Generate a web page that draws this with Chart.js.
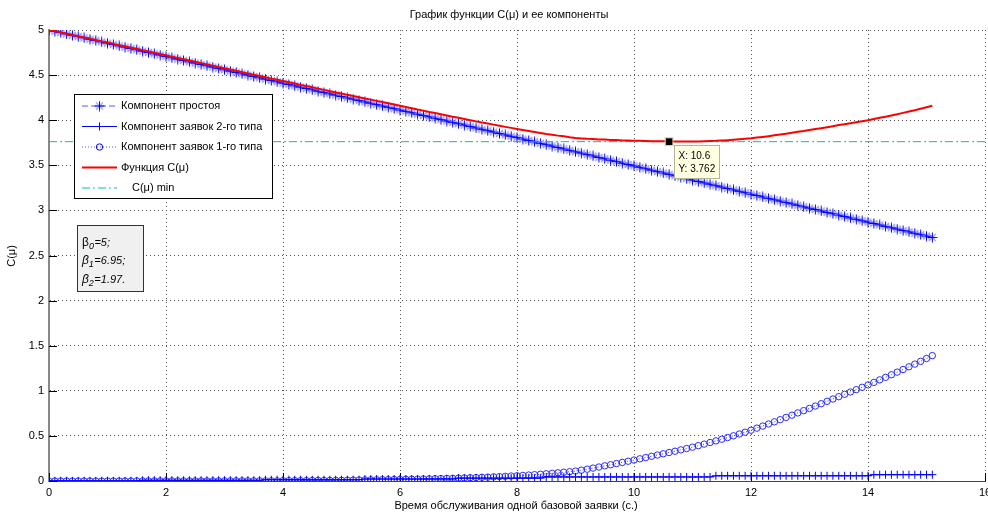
<!DOCTYPE html>
<html><head><meta charset="utf-8">
<script src="https://cdn.jsdelivr.net/npm/chart.js@4.4.1/dist/chart.umd.min.js"></script>
<style>html,body{margin:0;padding:0;background:#fff;}canvas{display:block;}</style>
</head><body>
<canvas id="c" width="988" height="513"></canvas>
<script>
// ---- data ----
const xs = [
0,0.1,0.2,0.3,0.4,0.5,0.6,0.7,0.8,0.9,
1,1.1,1.2,1.3,1.4,1.5,1.6,1.7,1.8,1.9,
2,2.1,2.2,2.3,2.4,2.5,2.6,2.7,2.8,2.9,
3,3.1,3.2,3.3,3.4,3.5,3.6,3.7,3.8,3.9,
4,4.1,4.2,4.3,4.4,4.5,4.6,4.7,4.8,4.9,
5,5.1,5.2,5.3,5.4,5.5,5.6,5.7,5.8,5.9,
6,6.1,6.2,6.3,6.4,6.5,6.6,6.7,6.8,6.9,
7,7.1,7.2,7.3,7.4,7.5,7.6,7.7,7.8,7.9,
8,8.1,8.2,8.3,8.4,8.5,8.6,8.7,8.8,8.9,
9,9.1,9.2,9.3,9.4,9.5,9.6,9.7,9.8,9.9,
10,10.1,10.2,10.3,10.4,10.5,10.6,10.7,10.8,10.9,
11,11.1,11.2,11.3,11.4,11.5,11.6,11.7,11.8,11.9,
12,12.1,12.2,12.3,12.4,12.5,12.6,12.7,12.8,12.9,
13,13.1,13.2,13.3,13.4,13.5,13.6,13.7,13.8,13.9,
14,14.1,14.2,14.3,14.4,14.5,14.6,14.7,14.8,14.9,
15,15.1];

// Компонент простоя
const idleComp = [
5.000,4.986,4.971,4.956,4.941,4.927,4.913,4.897,4.883,4.868,
4.854,4.839,4.824,4.810,4.795,4.781,4.765,4.751,4.736,4.722,
4.706,4.692,4.677,4.663,4.647,4.633,4.618,4.604,4.589,4.574,
4.559,4.544,4.530,4.514,4.500,4.485,4.470,4.455,4.440,4.426,
4.411,4.396,4.381,4.366,4.352,4.337,4.321,4.307,4.292,4.278,
4.263,4.247,4.233,4.218,4.203,4.188,4.173,4.158,4.143,4.128,
4.113,4.098,4.083,4.067,4.052,4.037,4.022,4.007,3.991,3.976,
3.961,3.946,3.930,3.914,3.899,3.884,3.869,3.853,3.837,3.822,
3.807,3.791,3.775,3.760,3.744,3.728,3.713,3.697,3.682,3.666,
3.650,3.635,3.619,3.604,3.587,3.572,3.556,3.541,3.524,3.509,
3.493,3.478,3.462,3.446,3.430,3.415,3.400,3.383,3.368,3.352,
3.337,3.321,3.305,3.290,3.274,3.259,3.243,3.227,3.212,3.196,
3.180,3.165,3.149,3.134,3.118,3.103,3.087,3.072,3.057,3.040,
3.025,3.010,2.994,2.978,2.963,2.948,2.932,2.916,2.901,2.885,
2.870,2.855,2.839,2.823,2.808,2.793,2.777,2.762,2.746,2.731,
2.716,2.700];

// Компонент заявок 2-го типа
const type2Comp = [
0.002,0.002,0.002,0.002,0.002,0.002,0.002,0.002,0.002,0.002,
0.002,0.002,0.002,0.002,0.002,0.002,0.008,0.008,0.008,0.008,
0.008,0.008,0.008,0.008,0.008,0.008,0.008,0.008,0.008,0.008,
0.008,0.008,0.008,0.008,0.008,0.008,0.008,0.014,0.014,0.014,
0.014,0.014,0.014,0.014,0.014,0.014,0.014,0.014,0.014,0.014,
0.014,0.014,0.014,0.014,0.022,0.022,0.022,0.022,0.022,0.022,
0.022,0.022,0.022,0.022,0.022,0.022,0.022,0.022,0.022,0.022,
0.032,0.032,0.032,0.032,0.032,0.032,0.032,0.032,0.032,0.032,
0.032,0.032,0.032,0.032,0.032,0.045,0.045,0.045,0.045,0.045,
0.045,0.045,0.045,0.045,0.045,0.045,0.045,0.045,0.045,0.045,
0.045,0.045,0.045,0.045,0.045,0.045,0.045,0.045,0.045,0.045,
0.045,0.045,0.045,0.045,0.058,0.058,0.058,0.058,0.058,0.058,
0.058,0.058,0.058,0.058,0.058,0.058,0.058,0.058,0.058,0.058,
0.058,0.058,0.058,0.058,0.058,0.058,0.058,0.058,0.058,0.058,
0.058,0.070,0.070,0.070,0.070,0.070,0.070,0.070,0.070,0.070,
0.070,0.070];

// Компонент заявок 1-го типа
const type1Comp = [
0,0,0,0,0,0,0,0,0,0,
0,0,0,0,0,0.001,0.001,0.001,0.001,0.001,
0.001,0.001,0.001,0.001,0.001,0.001,0.001,0.001,0.001,0.001,
0.002,0.002,0.002,0.002,0.002,0.002,0.002,0.002,0.002,0.002,
0.004,0.004,0.004,0.004,0.004,0.006,0.006,0.006,0.006,0.006,
0.008,0.009,0.010,0.011,0.012,0.013,0.014,0.015,0.016,0.017,
0.018,0.019,0.020,0.021,0.023,0.024,0.026,0.027,0.029,0.030,
0.032,0.034,0.036,0.038,0.041,0.043,0.046,0.049,0.052,0.055,
0.058,0.062,0.066,0.070,0.075,0.080,0.085,0.091,0.097,0.103,
0.110,0.120,0.131,0.143,0.155,0.168,0.180,0.193,0.206,0.219,
0.232,0.246,0.260,0.274,0.288,0.302,0.316,0.330,0.345,0.360,
0.375,0.392,0.409,0.427,0.445,0.463,0.482,0.501,0.521,0.541,
0.563,0.586,0.609,0.632,0.656,0.680,0.705,0.730,0.755,0.780,
0.805,0.831,0.857,0.883,0.909,0.935,0.961,0.987,1.013,1.039,
1.065,1.093,1.121,1.149,1.178,1.207,1.236,1.266,1.296,1.327,
1.358,1.390];

// Функция C(μ)
const cFunc = [
5.002,4.989,4.974,4.959,4.945,4.931,4.918,4.902,4.889,4.874,
4.861,4.846,4.831,4.818,4.803,4.791,4.775,4.762,4.747,4.734,
4.718,4.705,4.690,4.676,4.661,4.647,4.633,4.619,4.605,4.590,
4.577,4.562,4.548,4.533,4.519,4.505,4.490,4.476,4.461,4.448,
4.435,4.421,4.406,4.391,4.378,4.365,4.350,4.336,4.322,4.308,
4.296,4.281,4.268,4.255,4.241,4.228,4.214,4.201,4.187,4.174,
4.160,4.147,4.133,4.118,4.106,4.092,4.080,4.066,4.053,4.039,
4.027,4.014,4.000,3.987,3.975,3.963,3.951,3.939,3.926,3.915,
3.903,3.892,3.880,3.869,3.859,3.848,3.839,3.829,3.821,3.811,
3.803,3.798,3.793,3.791,3.786,3.785,3.781,3.780,3.776,3.775,
3.772,3.772,3.770,3.768,3.767,3.766,3.766,3.763,3.764,3.763,
3.764,3.765,3.767,3.770,3.772,3.776,3.779,3.783,3.788,3.793,
3.799,3.808,3.815,3.823,3.832,3.841,3.851,3.861,3.872,3.880,
3.891,3.902,3.912,3.923,3.934,3.946,3.956,3.967,3.978,3.989,
4.000,4.014,4.026,4.038,4.053,4.067,4.081,4.096,4.111,4.127,
4.144,4.160];

const cMinX = 10.6;
const cMinY = 3.762;
const xAxisMin = 0, xAxisMax = 16, xStep = 2;
const yAxisMin = 0, yAxisMax = 5, yStep = 0.5;

const titleText = 'График функции C(μ) и ее компоненты';
const xTitle = 'Время обслуживания одной базовой заявки (с.)';
const yTitle = 'C(μ)';
const labels = ['Компонент простоя','Компонент заявок 2-го типа','Компонент заявок 1-го типа','Функция C(μ)','C(μ) min'];
const betaNames = ['0','1','2'];
const betaValues = ['5;','6.95;','1.97.'];

// ---- styles ----
const FONT = '"Liberation Sans", Arial, Helvetica, sans-serif';
const BLUE = '#0000ff';
const RED = '#ff0000';
const CYAN = '#00bfbf';

function makeStar(){
  const c = document.createElement('canvas'); c.width = 11; c.height = 11;
  const g = c.getContext('2d');
  g.lineWidth = 1.2;
  g.strokeStyle = 'rgba(100,100,255,0.65)';
  g.beginPath(); g.moveTo(2,2); g.lineTo(9,9); g.moveTo(9,2); g.lineTo(2,9); g.stroke();
  g.lineWidth = 1;
  g.strokeStyle = BLUE;
  g.beginPath(); g.moveTo(5.5,0.5); g.lineTo(5.5,10.5); g.moveTo(0.5,5.5); g.lineTo(10.5,5.5); g.stroke();
  return c;
}
const starImg = makeStar();
const pts = ys => xs.map((x,i) => ({x:x, y:ys[i]}));

const dashIdle = [6,3];
const dashT1 = [1,2];
const dashMin = [8,3,2,3];

const overlay = {
  id:'overlay',
  beforeDatasetsDraw(chart){
    const ctx = chart.ctx, xS = chart.scales.x, yS = chart.scales.y, a = chart.chartArea;
    ctx.save();
    ctx.strokeStyle = '#000'; ctx.lineWidth = 1;
    ctx.beginPath();
    for (let v = xAxisMin; v <= xAxisMax; v += xStep){
      const px = Math.round(xS.getPixelForValue(v)) + 0.5;
      ctx.moveTo(px, a.bottom); ctx.lineTo(px, a.bottom - 8);
    }
    for (let v = yAxisMin; v <= yAxisMax + 1e-9; v += yStep){
      const py = Math.round(yS.getPixelForValue(v)) + 0.5;
      ctx.moveTo(a.left, py); ctx.lineTo(a.left + 8, py);
    }
    ctx.stroke();
    ctx.restore();
  },
  afterDraw(chart){
    const ctx = chart.ctx, xS = chart.scales.x, yS = chart.scales.y;
    ctx.save();
    ctx.fillStyle = '#000';
    ctx.font = '11px ' + FONT;
    ctx.textAlign = 'center'; ctx.textBaseline = 'middle';
    ctx.fillText(titleText, 509, 15);
    ctx.fillText(xTitle, 516, 506);
    ctx.save();
    ctx.translate(12, 256); ctx.rotate(-Math.PI/2);
    ctx.fillText(yTitle, 0, 0);
    ctx.restore();

    // legend
    const lx = 74.5, ly = 94.5, lw = 198, lh = 104;
    ctx.fillStyle = '#fff'; ctx.fillRect(lx, ly, lw, lh);
    ctx.strokeStyle = '#000'; ctx.lineWidth = 1; ctx.strokeRect(lx, ly, lw, lh);
    const rows = [106, 126.5, 147, 167.5, 188];
    const x1 = 82, x2 = 117, xm = 99.5;
    ctx.textAlign = 'left'; ctx.textBaseline = 'middle';
    ctx.font = '11px ' + FONT;
    rows.forEach((ry, i) => {
      ctx.save();
      ctx.beginPath();
      if (i === 0){ ctx.strokeStyle = '#5a5aff'; ctx.lineWidth = 1; ctx.setLineDash(dashIdle); }
      else if (i === 1){ ctx.strokeStyle = BLUE; ctx.lineWidth = 1; }
      else if (i === 2){ ctx.strokeStyle = '#5a5aff'; ctx.lineWidth = 1; ctx.setLineDash(dashT1); }
      else if (i === 3){ ctx.strokeStyle = RED; ctx.lineWidth = 2; }
      else { ctx.strokeStyle = CYAN; ctx.lineWidth = 1; ctx.setLineDash(dashMin); }
      ctx.moveTo(x1, ry); ctx.lineTo(x2, ry); ctx.stroke();
      ctx.setLineDash([]);
      if (i === 0){ ctx.drawImage(starImg, xm - 5.5, ry - 5.5); }
      if (i === 1){ ctx.strokeStyle = BLUE; ctx.beginPath(); ctx.moveTo(xm, ry-4); ctx.lineTo(xm, ry+4); ctx.stroke(); }
      if (i === 2){ ctx.strokeStyle = BLUE; ctx.beginPath(); ctx.arc(xm, ry, 3.2, 0, Math.PI*2); ctx.stroke(); }
      ctx.restore();
      ctx.fillStyle = '#000';
      ctx.fillText(labels[i], i === 4 ? 132 : 121, ry);
    });

    // beta box
    ctx.fillStyle = '#f0f0f0'; ctx.fillRect(77.5, 225.5, 66, 66);
    ctx.strokeStyle = '#333'; ctx.lineWidth = 1; ctx.strokeRect(77.5, 225.5, 66, 66);
    ctx.fillStyle = '#000'; ctx.textBaseline = 'alphabetic'; ctx.textAlign = 'left';
    const bRows = [245.5, 264, 282.5];
    bRows.forEach((by, i) => {
      let x = 82;
      ctx.font = (i === 0 ? '' : 'italic ') + '12px ' + FONT;
      ctx.fillText('β', x, by); x += ctx.measureText('β').width;
      ctx.font = 'italic 9px ' + FONT;
      ctx.fillText(betaNames[i], x, by + 3); x += ctx.measureText(betaNames[i]).width + 0.5;
      ctx.font = 'italic 11px ' + FONT;
      ctx.fillText('=' + betaValues[i], x, by);
    });

    // data tip
    const px = xS.getPixelForValue(cMinX), py = yS.getPixelForValue(cMinY);
    ctx.fillStyle = '#000';
    ctx.fillRect(px - 3.5, py - 3.5, 7, 7);
    ctx.strokeStyle = '#d8d0a0'; ctx.lineWidth = 1;
    ctx.strokeRect(px - 4, py - 4, 8, 8);
    const bx = Math.round(px) + 5.5, byy = Math.round(py) + 3.5;
    ctx.fillStyle = '#ffffe1'; ctx.fillRect(bx, byy, 45, 33);
    ctx.strokeStyle = '#b4b49a'; ctx.strokeRect(bx, byy, 45, 33);
    ctx.fillStyle = '#000'; ctx.font = '10px ' + FONT; ctx.textBaseline = 'middle';
    ctx.fillText('X: ' + cMinX, bx + 4, byy + 11);
    ctx.fillText('Y: ' + cMinY, bx + 4, byy + 24);
    ctx.restore();
  }
};

new Chart(document.getElementById('c'), {
  type: 'line',
  data: {
    datasets: [
      { label: labels[3], data: pts(cFunc), borderColor: RED, borderWidth: 2, pointRadius: 0, tension: 0 },
      { label: labels[4], data: [{x:xAxisMin, y:cMinY},{x:xAxisMax, y:cMinY}], borderColor: CYAN, borderWidth: 1, borderDash: dashMin, pointRadius: 0 },
      { label: labels[0], data: pts(idleComp), borderColor: BLUE, borderWidth: 1, borderDash: dashIdle, pointStyle: starImg, pointRadius: 5 },
      { label: labels[1], data: pts(type2Comp), borderColor: BLUE, borderWidth: 1, pointStyle: 'cross', pointRadius: 4, pointBorderWidth: 1, pointBorderColor: BLUE },
      { label: labels[2], data: pts(type1Comp), borderColor: '#3030ff', borderWidth: 1, borderDash: dashT1, pointStyle: 'circle', pointRadius: 3.2, pointBorderWidth: 1, pointBorderColor: '#2a2aff', pointBackgroundColor: 'rgba(0,0,0,0)' }
    ]
  },
  options: {
    responsive: false,
    animation: false,
    devicePixelRatio: 1,
    layout: { autoPadding: false, padding: { top: 30, right: 3, bottom: 12, left: 0 } },
    plugins: { legend: { display: false }, tooltip: { enabled: false }, title: { display: false } },
    elements: { line: { tension: 0 } },
    scales: {
      x: {
        type: 'linear', min: xAxisMin, max: xAxisMax,
        afterFit: s => { s.height = 20; s.paddingLeft = 0; s.paddingRight = 0; },
        ticks: { stepSize: xStep, autoSkip: false, maxRotation: 0, padding: 5, color: '#000', font: { family: FONT, size: 11 }, callback: v => String(v) },
        grid: { color: '#555', lineWidth: 1, drawTicks: false },
        border: { display: true, color: '#444', width: 1, dash: [1,3] }
      },
      y: {
        type: 'linear', min: yAxisMin, max: yAxisMax,
        afterFit: s => { s.width = 49; s.paddingTop = 0; s.paddingBottom = 0; },
        ticks: { stepSize: yStep, autoSkip: false, padding: 5, color: '#000', font: { family: FONT, size: 11 }, callback: v => String(v) },
        grid: { color: '#555', lineWidth: 1, drawTicks: false },
        border: { display: true, color: '#888', width: 2, dash: [1,3] }
      }
    }
  },
  plugins: [overlay]
});
</script>
</body></html>
